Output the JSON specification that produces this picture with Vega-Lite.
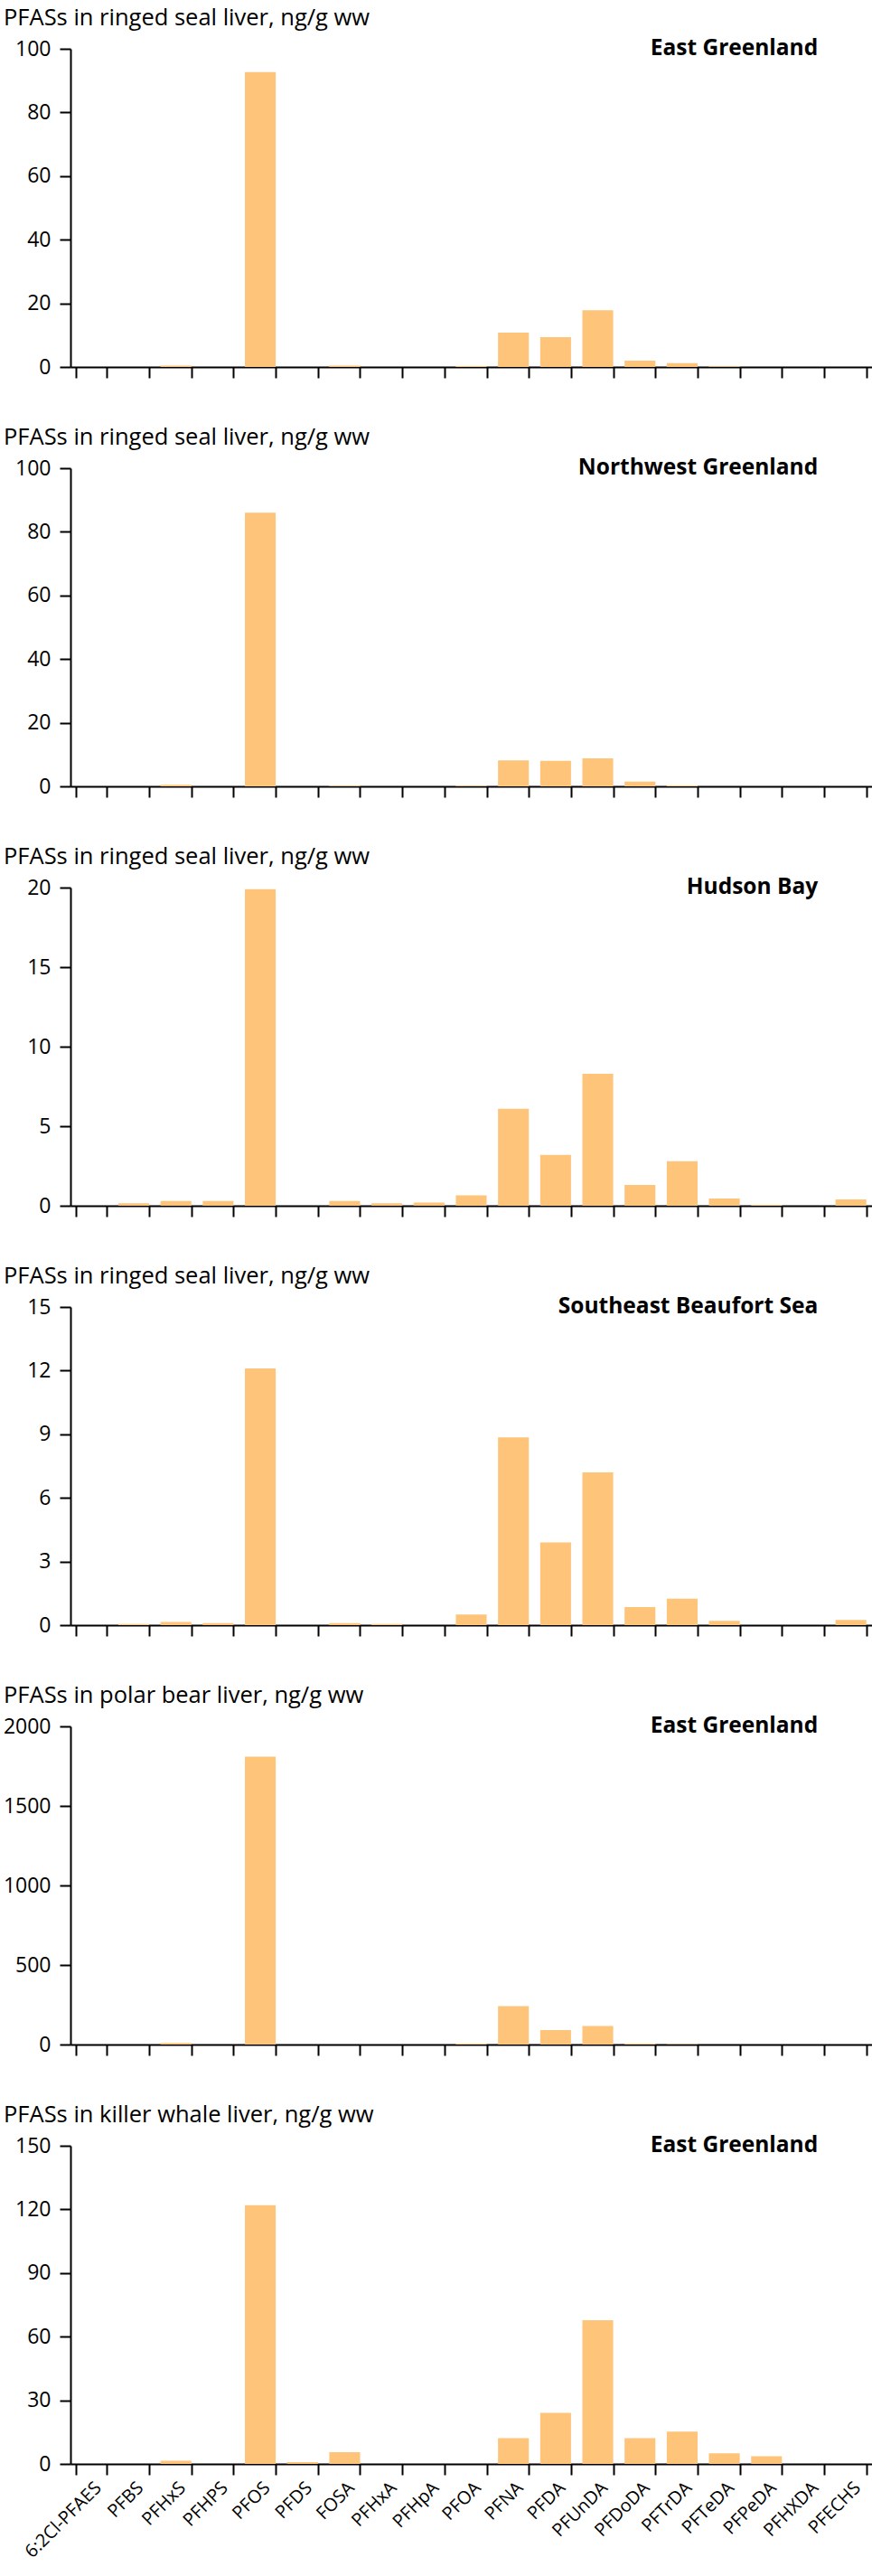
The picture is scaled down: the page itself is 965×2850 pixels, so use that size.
{
  "$schema": "https://vega.github.io/schema/vega-lite/v6.json",
  "padding": {"left": 3, "top": 7, "right": 0, "bottom": 0},
  "spacing": 52,
  "config": {
    "font": "Open Sans",
    "view": {"stroke": null},
    "axis": {"domainColor": "#000", "domainWidth": 2, "tickColor": "#000", "tickWidth": 2, "tickSize": 12, "labelColor": "#000", "labelFont": "Open Sans", "grid": false, "title": null},
    "title": {"font": "Open Sans", "fontSize": 25.5, "fontWeight": "normal", "anchor": "start", "frame": "group", "color": "#000", "dx": -74, "offset": 8},
    "bar": {"color": "#FDC47A"},
    "text": {"font": "Open Sans", "color": "#000"}
  },
  "datasets": {
    "p1": [
      {"compound": "6:2Cl-PFAES", "value": 0}, {"compound": "PFBS", "value": 0}, {"compound": "PFHxS", "value": 0.4}, {"compound": "PFHPS", "value": 0},
      {"compound": "PFOS", "value": 92.7}, {"compound": "PFDS", "value": 0}, {"compound": "FOSA", "value": 0.4}, {"compound": "PFHxA", "value": 0},
      {"compound": "PFHpA", "value": 0}, {"compound": "PFOA", "value": 0.3}, {"compound": "PFNA", "value": 10.8}, {"compound": "PFDA", "value": 9.4},
      {"compound": "PFUnDA", "value": 17.8}, {"compound": "PFDoDA", "value": 2.0}, {"compound": "PFTrDA", "value": 1.2}, {"compound": "PFTeDA", "value": 0.2},
      {"compound": "PFPeDA", "value": 0}, {"compound": "PFHXDA", "value": 0}, {"compound": "PFECHS", "value": 0}
    ],
    "p2": [
      {"compound": "6:2Cl-PFAES", "value": 0}, {"compound": "PFBS", "value": 0}, {"compound": "PFHxS", "value": 0.5}, {"compound": "PFHPS", "value": 0},
      {"compound": "PFOS", "value": 86}, {"compound": "PFDS", "value": 0}, {"compound": "FOSA", "value": 0.2}, {"compound": "PFHxA", "value": 0},
      {"compound": "PFHpA", "value": 0}, {"compound": "PFOA", "value": 0.2}, {"compound": "PFNA", "value": 8.2}, {"compound": "PFDA", "value": 8.0},
      {"compound": "PFUnDA", "value": 8.8}, {"compound": "PFDoDA", "value": 1.5}, {"compound": "PFTrDA", "value": 0.3}, {"compound": "PFTeDA", "value": 0},
      {"compound": "PFPeDA", "value": 0}, {"compound": "PFHXDA", "value": 0}, {"compound": "PFECHS", "value": 0}
    ],
    "p3": [
      {"compound": "6:2Cl-PFAES", "value": 0}, {"compound": "PFBS", "value": 0.15}, {"compound": "PFHxS", "value": 0.3}, {"compound": "PFHPS", "value": 0.3},
      {"compound": "PFOS", "value": 19.9}, {"compound": "PFDS", "value": 0}, {"compound": "FOSA", "value": 0.3}, {"compound": "PFHxA", "value": 0.15},
      {"compound": "PFHpA", "value": 0.2}, {"compound": "PFOA", "value": 0.65}, {"compound": "PFNA", "value": 6.1}, {"compound": "PFDA", "value": 3.2},
      {"compound": "PFUnDA", "value": 8.3}, {"compound": "PFDoDA", "value": 1.3}, {"compound": "PFTrDA", "value": 2.8}, {"compound": "PFTeDA", "value": 0.45},
      {"compound": "PFPeDA", "value": 0.05}, {"compound": "PFHXDA", "value": 0}, {"compound": "PFECHS", "value": 0.4}
    ],
    "p4": [
      {"compound": "6:2Cl-PFAES", "value": 0}, {"compound": "PFBS", "value": 0.05}, {"compound": "PFHxS", "value": 0.15}, {"compound": "PFHPS", "value": 0.1},
      {"compound": "PFOS", "value": 12.1}, {"compound": "PFDS", "value": 0}, {"compound": "FOSA", "value": 0.1}, {"compound": "PFHxA", "value": 0.05},
      {"compound": "PFHpA", "value": 0}, {"compound": "PFOA", "value": 0.5}, {"compound": "PFNA", "value": 8.85}, {"compound": "PFDA", "value": 3.9},
      {"compound": "PFUnDA", "value": 7.2}, {"compound": "PFDoDA", "value": 0.85}, {"compound": "PFTrDA", "value": 1.25}, {"compound": "PFTeDA", "value": 0.2},
      {"compound": "PFPeDA", "value": 0}, {"compound": "PFHXDA", "value": 0}, {"compound": "PFECHS", "value": 0.25}
    ],
    "p5": [
      {"compound": "6:2Cl-PFAES", "value": 0}, {"compound": "PFBS", "value": 0}, {"compound": "PFHxS", "value": 10}, {"compound": "PFHPS", "value": 0},
      {"compound": "PFOS", "value": 1810}, {"compound": "PFDS", "value": 0}, {"compound": "FOSA", "value": 0}, {"compound": "PFHxA", "value": 0},
      {"compound": "PFHpA", "value": 0}, {"compound": "PFOA", "value": 6}, {"compound": "PFNA", "value": 242}, {"compound": "PFDA", "value": 91},
      {"compound": "PFUnDA", "value": 117}, {"compound": "PFDoDA", "value": 6}, {"compound": "PFTrDA", "value": 3}, {"compound": "PFTeDA", "value": 0},
      {"compound": "PFPeDA", "value": 0}, {"compound": "PFHXDA", "value": 0}, {"compound": "PFECHS", "value": 0}
    ],
    "p6": [
      {"compound": "6:2Cl-PFAES", "value": 0}, {"compound": "PFBS", "value": 0}, {"compound": "PFHxS", "value": 1.5}, {"compound": "PFHPS", "value": 0},
      {"compound": "PFOS", "value": 122}, {"compound": "PFDS", "value": 0.8}, {"compound": "FOSA", "value": 5.5}, {"compound": "PFHxA", "value": 0},
      {"compound": "PFHpA", "value": 0}, {"compound": "PFOA", "value": 0}, {"compound": "PFNA", "value": 12.1}, {"compound": "PFDA", "value": 24.1},
      {"compound": "PFUnDA", "value": 67.8}, {"compound": "PFDoDA", "value": 12.1}, {"compound": "PFTrDA", "value": 15.2}, {"compound": "PFTeDA", "value": 5.0},
      {"compound": "PFPeDA", "value": 3.6}, {"compound": "PFHXDA", "value": 0}, {"compound": "PFECHS", "value": 0}
    ]
  },
  "vconcat": [
    {
      "width": 887, "height": 352,
      "title": {"text": "PFASs in ringed seal liver, ng/g ww"},
      "data": {"name": "p1"},
      "layer": [
        {"mark": {"type": "bar"},
         "encoding": {
           "x": {"field": "compound", "type": "nominal", "sort": null, "scale": {"domain": ["6:2Cl-PFAES","PFBS","PFHxS","PFHPS","PFOS","PFDS","FOSA","PFHxA","PFHpA","PFOA","PFNA","PFDA","PFUnDA","PFDoDA","PFTrDA","PFTeDA","PFPeDA","PFHXDA","PFECHS"], "paddingInner": 0.27, "paddingOuter": 0.135}, "axis": {"labels": false, "tickBand": "extent", "title": null}},
           "y": {"field": "value", "type": "quantitative", "scale": {"domain": [0, 100], "nice": false}, "axis": {"values": [0, 20, 40, 60, 80, 100], "format": "d", "labelFontSize": 23, "labelPadding": 10, "title": null}}
         }},
        {"data": {"values": [{"location": "East Greenland"}]},
         "mark": {"type": "text", "align": "right", "baseline": "alphabetic", "fontWeight": "bold", "fontSize": 24.5, "dy": 7},
         "encoding": {"x": {"datum": "PFHXDA", "type": "nominal", "bandPosition": 0.8}, "y": {"datum": 100, "type": "quantitative"}, "text": {"field": "location"}}}
      ]
    },
    {
      "width": 887, "height": 352,
      "title": {"text": "PFASs in ringed seal liver, ng/g ww"},
      "data": {"name": "p2"},
      "layer": [
        {"mark": {"type": "bar"},
         "encoding": {
           "x": {"field": "compound", "type": "nominal", "sort": null, "scale": {"domain": ["6:2Cl-PFAES","PFBS","PFHxS","PFHPS","PFOS","PFDS","FOSA","PFHxA","PFHpA","PFOA","PFNA","PFDA","PFUnDA","PFDoDA","PFTrDA","PFTeDA","PFPeDA","PFHXDA","PFECHS"], "paddingInner": 0.27, "paddingOuter": 0.135}, "axis": {"labels": false, "tickBand": "extent", "title": null}},
           "y": {"field": "value", "type": "quantitative", "scale": {"domain": [0, 100], "nice": false}, "axis": {"values": [0, 20, 40, 60, 80, 100], "format": "d", "labelFontSize": 23, "labelPadding": 10, "title": null}}
         }},
        {"data": {"values": [{"location": "Northwest Greenland"}]},
         "mark": {"type": "text", "align": "right", "baseline": "alphabetic", "fontWeight": "bold", "fontSize": 24.5, "dy": 7},
         "encoding": {"x": {"datum": "PFHXDA", "type": "nominal", "bandPosition": 0.8}, "y": {"datum": 100, "type": "quantitative"}, "text": {"field": "location"}}}
      ]
    },
    {
      "width": 887, "height": 352,
      "title": {"text": "PFASs in ringed seal liver, ng/g ww"},
      "data": {"name": "p3"},
      "layer": [
        {"mark": {"type": "bar"},
         "encoding": {
           "x": {"field": "compound", "type": "nominal", "sort": null, "scale": {"domain": ["6:2Cl-PFAES","PFBS","PFHxS","PFHPS","PFOS","PFDS","FOSA","PFHxA","PFHpA","PFOA","PFNA","PFDA","PFUnDA","PFDoDA","PFTrDA","PFTeDA","PFPeDA","PFHXDA","PFECHS"], "paddingInner": 0.27, "paddingOuter": 0.135}, "axis": {"labels": false, "tickBand": "extent", "title": null}},
           "y": {"field": "value", "type": "quantitative", "scale": {"domain": [0, 20], "nice": false}, "axis": {"values": [0, 5, 10, 15, 20], "format": "d", "labelFontSize": 23, "labelPadding": 10, "title": null}}
         }},
        {"data": {"values": [{"location": "Hudson Bay"}]},
         "mark": {"type": "text", "align": "right", "baseline": "alphabetic", "fontWeight": "bold", "fontSize": 24.5, "dy": 7},
         "encoding": {"x": {"datum": "PFHXDA", "type": "nominal", "bandPosition": 0.8}, "y": {"datum": 20, "type": "quantitative"}, "text": {"field": "location"}}}
      ]
    },
    {
      "width": 887, "height": 352,
      "title": {"text": "PFASs in ringed seal liver, ng/g ww"},
      "data": {"name": "p4"},
      "layer": [
        {"mark": {"type": "bar"},
         "encoding": {
           "x": {"field": "compound", "type": "nominal", "sort": null, "scale": {"domain": ["6:2Cl-PFAES","PFBS","PFHxS","PFHPS","PFOS","PFDS","FOSA","PFHxA","PFHpA","PFOA","PFNA","PFDA","PFUnDA","PFDoDA","PFTrDA","PFTeDA","PFPeDA","PFHXDA","PFECHS"], "paddingInner": 0.27, "paddingOuter": 0.135}, "axis": {"labels": false, "tickBand": "extent", "title": null}},
           "y": {"field": "value", "type": "quantitative", "scale": {"domain": [0, 15], "nice": false}, "axis": {"values": [0, 3, 6, 9, 12, 15], "format": "d", "labelFontSize": 23, "labelPadding": 10, "title": null}}
         }},
        {"data": {"values": [{"location": "Southeast Beaufort Sea"}]},
         "mark": {"type": "text", "align": "right", "baseline": "alphabetic", "fontWeight": "bold", "fontSize": 24.5, "dy": 7},
         "encoding": {"x": {"datum": "PFHXDA", "type": "nominal", "bandPosition": 0.8}, "y": {"datum": 15, "type": "quantitative"}, "text": {"field": "location"}}}
      ]
    },
    {
      "width": 887, "height": 352,
      "title": {"text": "PFASs in polar bear liver, ng/g ww"},
      "data": {"name": "p5"},
      "layer": [
        {"mark": {"type": "bar"},
         "encoding": {
           "x": {"field": "compound", "type": "nominal", "sort": null, "scale": {"domain": ["6:2Cl-PFAES","PFBS","PFHxS","PFHPS","PFOS","PFDS","FOSA","PFHxA","PFHpA","PFOA","PFNA","PFDA","PFUnDA","PFDoDA","PFTrDA","PFTeDA","PFPeDA","PFHXDA","PFECHS"], "paddingInner": 0.27, "paddingOuter": 0.135}, "axis": {"labels": false, "tickBand": "extent", "title": null}},
           "y": {"field": "value", "type": "quantitative", "scale": {"domain": [0, 2000], "nice": false}, "axis": {"values": [0, 500, 1000, 1500, 2000], "format": "d", "labelFontSize": 23, "labelPadding": 10, "title": null}}
         }},
        {"data": {"values": [{"location": "East Greenland"}]},
         "mark": {"type": "text", "align": "right", "baseline": "alphabetic", "fontWeight": "bold", "fontSize": 24.5, "dy": 7},
         "encoding": {"x": {"datum": "PFHXDA", "type": "nominal", "bandPosition": 0.8}, "y": {"datum": 2000, "type": "quantitative"}, "text": {"field": "location"}}}
      ]
    },
    {
      "width": 887, "height": 352,
      "title": {"text": "PFASs in killer whale liver, ng/g ww"},
      "data": {"name": "p6"},
      "layer": [
        {"mark": {"type": "bar"},
         "encoding": {
           "x": {"field": "compound", "type": "nominal", "sort": null, "scale": {"domain": ["6:2Cl-PFAES","PFBS","PFHxS","PFHPS","PFOS","PFDS","FOSA","PFHxA","PFHpA","PFOA","PFNA","PFDA","PFUnDA","PFDoDA","PFTrDA","PFTeDA","PFPeDA","PFHXDA","PFECHS"], "paddingInner": 0.27, "paddingOuter": 0.135}, "axis": {"labels": true, "labelAngle": -45, "labelFontSize": 20, "labelPadding": 4, "tickBand": "extent", "title": null}},
           "y": {"field": "value", "type": "quantitative", "scale": {"domain": [0, 150], "nice": false}, "axis": {"values": [0, 30, 60, 90, 120, 150], "format": "d", "labelFontSize": 23, "labelPadding": 10, "title": null}}
         }},
        {"data": {"values": [{"location": "East Greenland"}]},
         "mark": {"type": "text", "align": "right", "baseline": "alphabetic", "fontWeight": "bold", "fontSize": 24.5, "dy": 7},
         "encoding": {"x": {"datum": "PFHXDA", "type": "nominal", "bandPosition": 0.8}, "y": {"datum": 150, "type": "quantitative"}, "text": {"field": "location"}}}
      ]
    }
  ]
}
